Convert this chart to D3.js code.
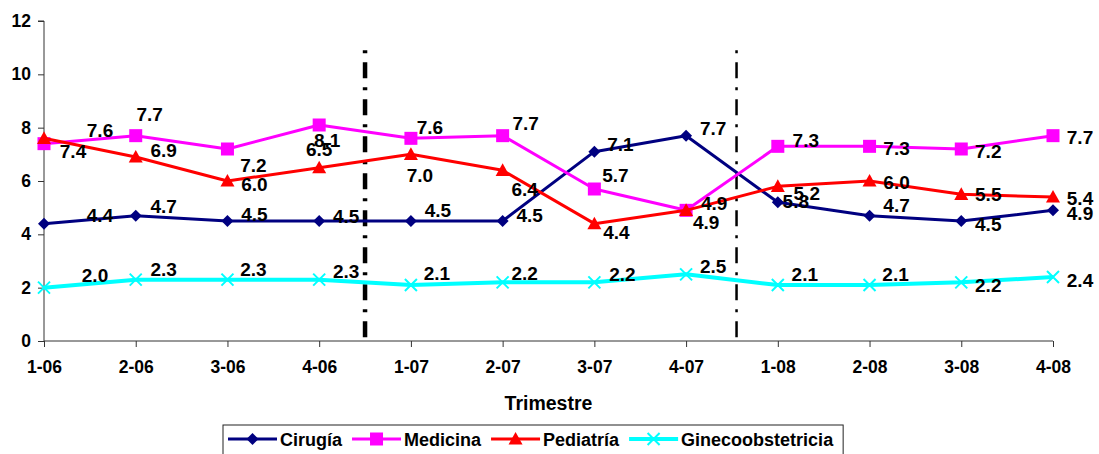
<!DOCTYPE html>
<html>
<head>
<meta charset="utf-8">
<script src="https://cdn.jsdelivr.net/npm/d3@7/dist/d3.min.js"></script>
<style>
  html, body { margin: 0; padding: 0; background: #fff; }
  svg { display: block; font-family: "Liberation Sans", Arial, sans-serif; font-weight: bold; }
</style>
</head>
<body>
<svg id="chart" width="1099" height="454"></svg>
<script>
// Quarters (trimestre-año)
const quarters = ["1-06", "2-06", "3-06", "4-06", "1-07", "2-07", "3-07", "4-07", "1-08", "2-08", "3-08", "4-08"];

// Values per service
const cirugia          = [4.4, 4.7, 4.5, 4.5, 4.5, 4.5, 7.1, 7.7, 5.2, 4.7, 4.5, 4.9];
const medicina         = [7.4, 7.7, 7.2, 8.1, 7.6, 7.7, 5.7, 4.9, 7.3, 7.3, 7.2, 7.7];
const pediatria        = [7.6, 6.9, 6.0, 6.5, 7.0, 6.4, 4.4, 4.9, 5.8, 6.0, 5.5, 5.4];
const ginecoobstetricia = [2.0, 2.3, 2.3, 2.3, 2.1, 2.2, 2.2, 2.5, 2.1, 2.1, 2.2, 2.4];

const yTicks = [0, 2, 4, 6, 8, 10, 12];

// Label placement relative to each point ([dx, dy] of the label centre)
const labelNudge = {
  "Cirugía": [[56,-8],[28,-9],[27,-7],[27,-5],[27,-11],[27,-6],[26,-7],[27,-7],[29,-9],[27,-10],[27,3],[27,3]],
  "Medicina": [[29,8],[14,-21],[26,16],[8,15],[19,-11],[23,-12],[21,-14],[20,12],[28,-6],[27,2],[27,2],[27,2]],
  "Pediatría": [[56,-8],[28,-7],[27,3],[0,-18],[9,21],[22,19],[22,9],[28,-7],[18,15],[27,1],[27,0],[27,1]],
  "Ginecoobstetricia": [[51,-12],[28,-10],[26,-10],[27,-8],[26,-12],[22,-9],[28,-8],[27,-8],[27,-11],[26,-11],[27,3],[27,3]]
};

const series = [
  { name: "Cirugía", values: cirugia, color: "#000080", marker: "diamond", width: 3 },
  { name: "Medicina", values: medicina, color: "#FF00FF", marker: "square", width: 3 },
  { name: "Pediatría", values: pediatria, color: "#FF0000", marker: "triangle", width: 3 },
  { name: "Ginecoobstetricia", values: ginecoobstetricia, color: "#00FFFF", marker: "cross", width: 4 }
];

// Year separators: placed between two quarters (fraction of a step after the given quarter)
const separators = [
  { after: "4-06", frac: 0.5, width: 4.5 },
  { after: "4-07", frac: 0.55, width: 2.5 }
];

const svg = d3.select("#chart");
const plot = { left: 44, right: 1053, top: 21, bottom: 341 };

const x = d3.scalePoint().domain(quarters).range([plot.left, plot.right]).padding(0);
const y = d3.scaleLinear().domain([0, 12]).range([plot.bottom, plot.top]);

// Axes
const yAxis = svg.append("g").attr("transform", `translate(${plot.left},0)`)
  .call(d3.axisLeft(y).tickValues(yTicks).tickSize(6).tickPadding(7).tickFormat(d3.format("d")));
yAxis.select(".domain").attr("stroke", "#333").attr("d", `M-6,${y(12)}H0V${y(0)}`);
yAxis.selectAll(".tick line").attr("stroke", "#333");
yAxis.selectAll(".tick text").attr("font-size", 17.5).attr("font-weight", "bold")
  .attr("font-family", "'Liberation Sans', Arial, sans-serif").attr("fill", "#000");

const xAxis = svg.append("g").attr("transform", `translate(0,${plot.bottom})`)
  .call(d3.axisBottom(x).tickSize(6).tickPadding(14));
xAxis.select(".domain").attr("stroke", "#333").attr("d", `M${plot.left},0H${plot.right}`);
xAxis.selectAll(".tick line").attr("stroke", "#333");
xAxis.selectAll(".tick text").attr("font-size", 17.5).attr("font-weight", "bold")
  .attr("font-family", "'Liberation Sans', Arial, sans-serif").attr("fill", "#000");

// Axis title
svg.append("text").attr("x", (plot.left + plot.right) / 2).attr("y", 410)
  .attr("text-anchor", "middle").attr("font-size", 19.5).text("Trimestre");

// Separator lines between years
const step = x.step();
separators.forEach(s => {
  const sx = x(s.after) + step * s.frac;
  svg.append("line")
    .attr("x1", sx).attr("x2", sx).attr("y1", y(10.9)).attr("y2", y(0))
    .attr("stroke", "#000").attr("stroke-width", s.width)
    .attr("stroke-dasharray", "3,9,16,9");
});

// Marker drawing
function drawMarker(g, type, color, cx, cy, scale = 1) {
  if (type === "diamond") {
    const r = 6 * scale;
    g.append("path").attr("d", `M${cx},${cy - r}L${cx + r},${cy}L${cx},${cy + r}L${cx - r},${cy}Z`).attr("fill", color);
  } else if (type === "square") {
    const h = 6.5 * scale;
    g.append("rect").attr("x", cx - h).attr("y", cy - h).attr("width", 2 * h).attr("height", 2 * h).attr("fill", color);
  } else if (type === "triangle") {
    const h = 7 * scale;
    g.append("path").attr("d", `M${cx},${cy - h}L${cx + h},${cy + h * 0.8}L${cx - h},${cy + h * 0.8}Z`).attr("fill", color);
  } else if (type === "cross") {
    const h = 6 * scale;
    g.append("path").attr("d", `M${cx - h},${cy - h}L${cx + h},${cy + h}M${cx - h},${cy + h}L${cx + h},${cy - h}`)
      .attr("stroke", color).attr("stroke-width", 2).attr("fill", "none");
  }
}

const line = d3.line().x((d, i) => x(quarters[i])).y(d => y(d));

series.forEach(s => {
  const g = svg.append("g");
  g.append("path").datum(s.values).attr("d", line)
    .attr("fill", "none").attr("stroke", s.color).attr("stroke-width", s.width)
    .attr("stroke-linejoin", "round");
  s.values.forEach((v, i) => drawMarker(g, s.marker, s.color, x(quarters[i]), y(v)));
});

// Data labels
const fmt = d3.format(".1f");
series.forEach(s => {
  const nudge = labelNudge[s.name];
  svg.append("g").selectAll("text").data(s.values).join("text")
    .attr("x", (d, i) => x(quarters[i]) + nudge[i][0])
    .attr("y", (d, i) => y(d) + nudge[i][1] + 6.8)
    .attr("text-anchor", "middle").attr("font-size", 19).attr("fill", "#000")
    .text(d => fmt(d));
});

// Legend
const legend = svg.append("g");
const legendBox = legend.append("rect").attr("y", 425).attr("height", 40)
  .attr("fill", "#fff").attr("stroke", "#222").attr("stroke-width", 1);
let lx = 228;
const ly = 439;
series.forEach(s => {
  legend.append("line").attr("x1", lx).attr("x2", lx + 49).attr("y1", ly).attr("y2", ly)
    .attr("stroke", s.color).attr("stroke-width", s.width);
  drawMarker(legend, s.marker, s.color, lx + 24.5, ly);
  const t = legend.append("text").attr("x", lx + 52).attr("y", ly + 6.5)
    .attr("font-size", 18).attr("fill", "#000").text(s.name);
  lx += 52 + t.node().getComputedTextLength() + 10;
});
legendBox.attr("x", 223).attr("width", lx - 223);
</script>
</body>
</html>
